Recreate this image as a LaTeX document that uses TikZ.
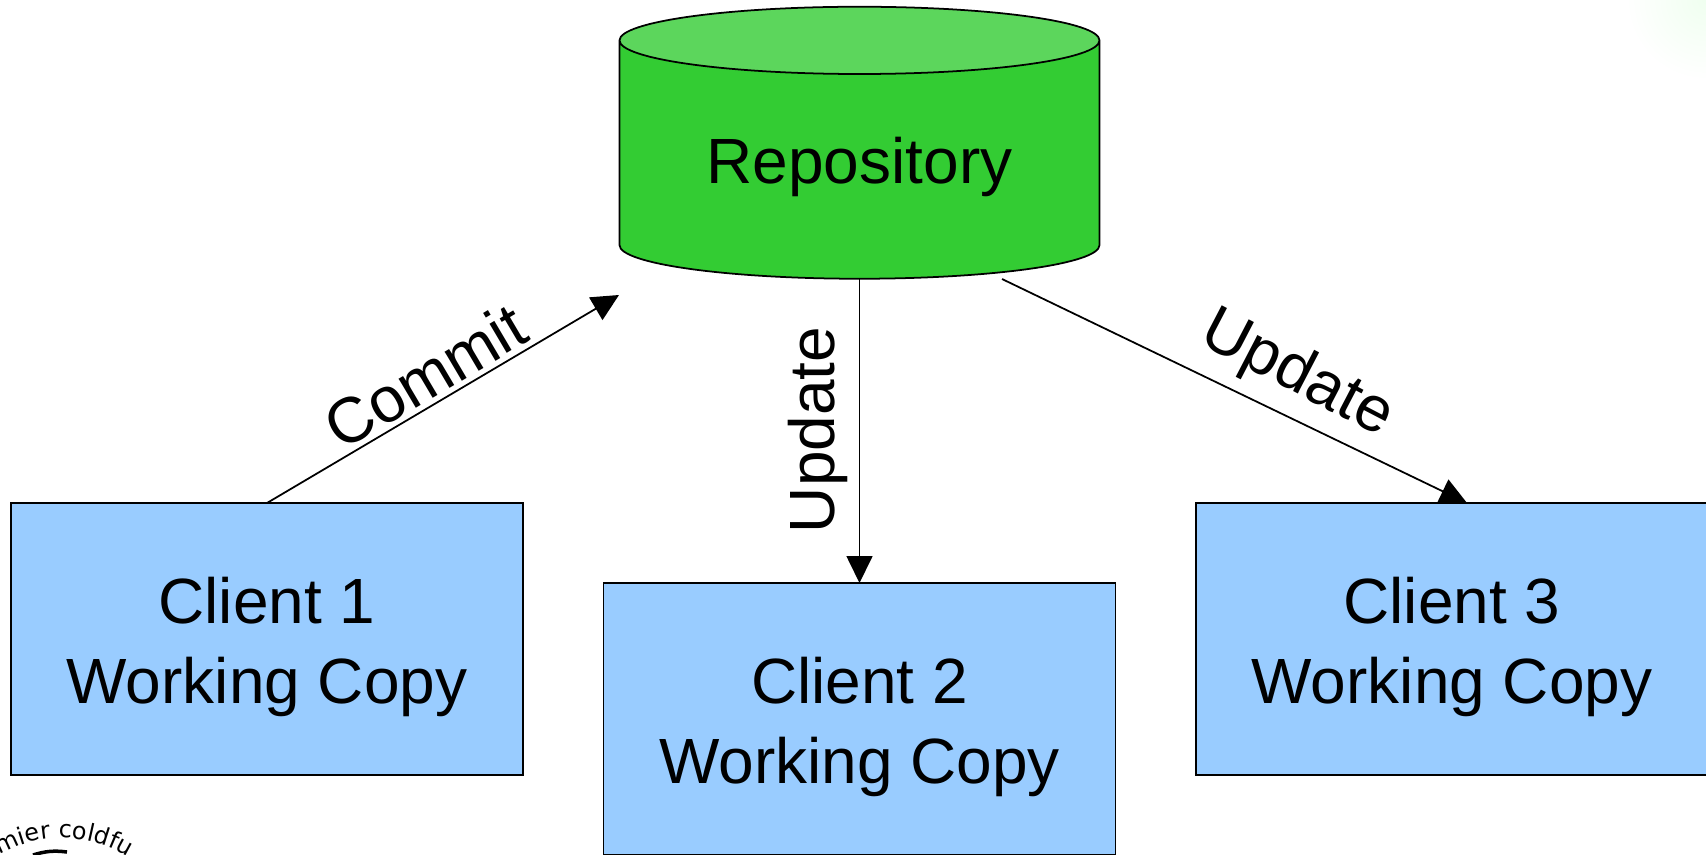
\documentclass[tikz,border=0pt]{standalone}
\usepackage{fontspec}
\setmainfont{Liberation Sans}
\newfontfamily\logofamily{DejaVu Sans}
\usetikzlibrary{arrows.meta}
\usetikzlibrary{shapes.geometric}
\usetikzlibrary{decorations.text}

\definecolor{repobody}{RGB}{51,204,51}
\definecolor{repotop}{RGB}{92,214,92}
\definecolor{clientblue}{RGB}{153,204,255}

\begin{document}
\begin{tikzpicture}[
        >={Triangle[length=.27cm,width=.26cm]},
        line width=.5pt,
        store/.style={
            cylinder,
            shape border rotate=90,
            shape aspect=.22,
            draw,
            cylinder uses custom fill,
            cylinder body fill=repobody,
            cylinder end fill=repotop,
            minimum width=4.8cm,
            minimum height=2.72cm,
            inner sep=0pt,
            outer sep=0pt,
            text height=16.9pt,
            font=\fontsize{18.2}{22.6}\selectfont,
        },
        client/.style={
            rectangle,
            draw,
            fill=clientblue,
            align=center,
            minimum width=5.12cm,
            minimum height=2.72cm,
            outer sep=0pt,
            text height=40.4pt,
            font=\fontsize{18.2}{22.6}\selectfont,
        },
        tag/.style={
            font=\fontsize{18.2}{22.6}\selectfont,
        }
    ]

    \useasboundingbox (0,0) rectangle (17.06,8.54);
    \shade [inner color=green!6, outer color=white] (17.06,8.54) circle (.8);

    \node (repo) at (8.595,6.94) [store] {Repository};
    \node (c1) at (2.67,2.15) [client] {Client 1\\Working Copy};
    \node (c2) at (8.595,1.35) [client] {Client 2\\Working Copy};
    \node (c3) at (14.52,2.15) [client] {Client 3\\Working Copy};

    \coordinate (committip) at (6.19,5.59);
    \coordinate (reporight) at (10.02,5.75);
    \coordinate (c3top) at (14.67,3.51);

    \draw [->] (c1.north) -- (committip);
    \draw [->] (repo.south) -- (c2.north);
    \draw [->] (reporight) -- (c3top);

    \node (commit) at (4.25,4.78) [tag, rotate=30.6] {Commit};
    \node (update2) at (8.18,4.24) [tag, rotate=90] {Update};
    \node (update3) at (12.97,4.79) [tag, rotate=-27.5] {Update};

    % logo
    \path [decorate, decoration={text along path, text={|\logofamily\fontsize{6.8}{8}\selectfont|mier coldfu}}]
        (-.005,-.0075) arc (120:40:1.25);
    \draw [line width=1pt] (.33,-.01) to [bend left=12] (.67,.02);

    \end{tikzpicture}
\end{document}
